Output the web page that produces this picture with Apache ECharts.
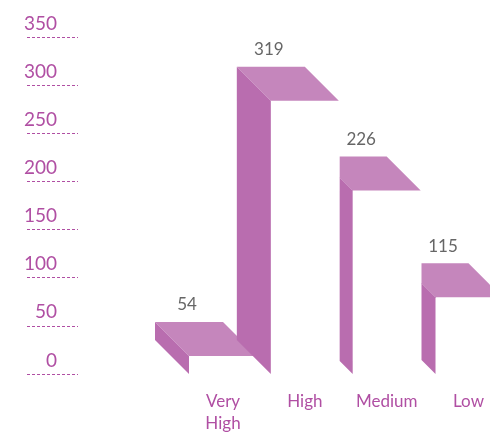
<!DOCTYPE html>
<html>
<head>
<meta charset="utf-8">
<script src="https://cdn.jsdelivr.net/npm/echarts@6/dist/echarts.min.js"></script>
<style>
html,body{margin:0;padding:0;background:#fff;}
#chart{width:490px;height:438px;}
</style>
</head>
<body>
<div id="chart"></div>
<script>
// ---- data ----
const categories = ['Very High', 'High', 'Medium', 'Low'];
const values = [54, 319, 226, 115];
const yTicks = [0, 50, 100, 150, 200, 250, 300, 350];

// ---- style ----
const purple = '#b04fa3';
const topColor = '#c586bc';
const sideColor = '#b96daf';
const depth = 34;
const topWidths = [68, 68, 47, 47];
const sideThick = [34, 34, 13, 14];

const chart = echarts.init(document.getElementById('chart'));
const font = 'Lato, "Noto Sans", sans-serif';

chart.setOption({
  animation: false,
  grid: [
    { left: 27, right: 412, top: 37, bottom: 64 },
    { left: 223, right: 21.5, top: 37, bottom: 64 }
  ],
  xAxis: [
    { type: 'value', gridIndex: 0, show: false },
    {
      type: 'category', gridIndex: 1, data: categories, boundaryGap: false,
      axisLine: { show: false }, axisTick: { show: false },
      axisLabel: {
        color: purple, fontSize: 17, fontFamily: font, margin: 17, lineHeight: 22,
        formatter: v => v.replace(' ', '\n')
      }
    }
  ],
  yAxis: [
    {
      type: 'value', gridIndex: 0, min: yTicks[0], max: yTicks[yTicks.length - 1], interval: 50,
      axisLine: { show: false }, axisTick: { show: false },
      splitLine: { show: true, lineStyle: { color: purple, type: [3, 2], width: 1 } },
      axisLabel: {
        inside: true, margin: 30, align: 'right', verticalAlign: 'bottom',
        padding: [0, 0, 4, 0],
        color: purple, fontSize: 19, fontFamily: font
      }
    },
    { type: 'value', gridIndex: 1, min: 0, max: 350, show: false }
  ],
  series: [{
    type: 'custom',
    xAxisIndex: 1, yAxisIndex: 1,
    data: values.map((v, i) => [i, v]),
    clip: false,
    renderItem: function (params, api) {
      const idx = api.value(0);
      const val = api.value(1);
      const top = api.coord([idx, val]);
      const base = api.coord([idx, 0]);
      const c = top[0], yt = top[1], y0 = base[1];
      const W = topWidths[idx], t = sideThick[idx], D = depth;
      const L = c - W;
      return {
        type: 'group',
        children: [
          {
            type: 'polygon',
            shape: { points: [[L, yt], [c, yt], [c + D, yt + D], [L + t, yt + D], [L, yt + D - t]] },
            style: { fill: topColor }
          },
          {
            type: 'polygon',
            shape: { points: [[L, yt + D - t], [L + t, yt + D], [L + t, y0], [L, y0 - t]] },
            style: { fill: sideColor }
          },
          {
            type: 'text',
            style: {
              x: L + W / 2 - 2, y: yt - 17, text: String(val),
              textAlign: 'center', textVerticalAlign: 'middle',
              fill: '#666', fontSize: 17, fontFamily: font
            }
          }
        ]
      };
    }
  }]
});
</script>
</body>
</html>
